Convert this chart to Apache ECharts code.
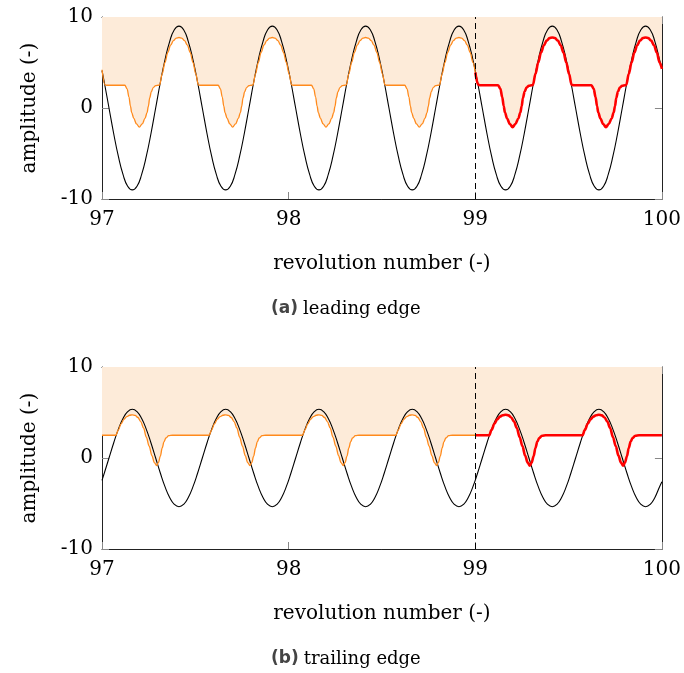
<!DOCTYPE html>
<html><head><meta charset="utf-8">
<script src="https://cdn.jsdelivr.net/npm/echarts@6/dist/echarts.min.js"></script>
<style>html,body{margin:0;padding:0;background:#fff}#c{width:684px;height:673px}</style>
</head><body><div id="c"></div>
<script>
// ---------- data ----------
const xTicks = [97, 98, 99, 100];
const yTicks = [-10, 0, 10];
const splitRev = 99;
const xTitle = 'revolution number (-)';
const yTitle = 'amplitude (-)';
const captions = [['(a)', 'leading edge'], ['(b)', 'trailing edge']];

// sample positions of the black (blade signal) curves
const revX = [97,
97.0125,97.0375,97.0625,97.0875,97.1125,97.1375,97.1625,97.1875,97.2125,97.2375,97.2625,97.2875,97.3125,97.3375,97.3625,97.3875,97.4125,97.4375,97.4625,97.4875,
97.5125,97.5375,97.5625,97.5875,97.6125,97.6375,97.6625,97.6875,97.7125,97.7375,97.7625,97.7875,97.8125,97.8375,97.8625,97.8875,97.9125,97.9375,97.9625,97.9875,
98.0125,98.0375,98.0625,98.0875,98.1125,98.1375,98.1625,98.1875,98.2125,98.2375,98.2625,98.2875,98.3125,98.3375,98.3625,98.3875,98.4125,98.4375,98.4625,98.4875,
98.5125,98.5375,98.5625,98.5875,98.6125,98.6375,98.6625,98.6875,98.7125,98.7375,98.7625,98.7875,98.8125,98.8375,98.8625,98.8875,98.9125,98.9375,98.9625,98.9875,
99.0125,99.0375,99.0625,99.0875,99.1125,99.1375,99.1625,99.1875,99.2125,99.2375,99.2625,99.2875,99.3125,99.3375,99.3625,99.3875,99.4125,99.4375,99.4625,99.4875,
99.5125,99.5375,99.5625,99.5875,99.6125,99.6375,99.6625,99.6875,99.7125,99.7375,99.7625,99.7875,99.8125,99.8375,99.8625,99.8875,99.9125,99.9375,99.9625,99.9875,
100];

// leading edge, black signal
const topBlack = [4.1,
2.8,0,-2.8,-5.3,-7.3,-8.6,-9.0,-8.6,-7.3,-5.3,-2.8,0,2.8,5.3,7.3,8.6,9.0,8.6,7.3,5.3,
2.8,0,-2.8,-5.3,-7.3,-8.6,-9.0,-8.6,-7.3,-5.3,-2.8,0,2.8,5.3,7.3,8.6,9.0,8.6,7.3,5.3,
2.8,0,-2.8,-5.3,-7.3,-8.6,-9.0,-8.6,-7.3,-5.3,-2.8,0,2.8,5.3,7.3,8.6,9.0,8.6,7.3,5.3,
2.8,0,-2.8,-5.3,-7.3,-8.6,-9.0,-8.6,-7.3,-5.3,-2.8,0,2.8,5.3,7.3,8.6,9.0,8.6,7.3,5.3,
2.8,0,-2.8,-5.3,-7.3,-8.6,-9.0,-8.6,-7.3,-5.3,-2.8,0,2.8,5.3,7.3,8.6,9.0,8.6,7.3,5.3,
2.8,0,-2.8,-5.3,-7.3,-8.6,-9.0,-8.6,-7.3,-5.3,-2.8,0,2.8,5.3,7.3,8.6,9.0,8.6,7.3,5.3,
4.4];

// trailing edge, black signal
const botBlack = [-2.45,
-1.65,0,1.65,3.15,4.33,5.09,5.35,5.09,4.33,3.15,1.65,0,-1.65,-3.15,-4.33,-5.09,-5.35,-5.09,-4.33,-3.15,
-1.65,0,1.65,3.15,4.33,5.09,5.35,5.09,4.33,3.15,1.65,0,-1.65,-3.15,-4.33,-5.09,-5.35,-5.09,-4.33,-3.15,
-1.65,0,1.65,3.15,4.33,5.09,5.35,5.09,4.33,3.15,1.65,0,-1.65,-3.15,-4.33,-5.09,-5.35,-5.09,-4.33,-3.15,
-1.65,0,1.65,3.15,4.33,5.09,5.35,5.09,4.33,3.15,1.65,0,-1.65,-3.15,-4.33,-5.09,-5.35,-5.09,-4.33,-3.15,
-1.65,0,1.65,3.15,4.33,5.09,5.35,5.09,4.33,3.15,1.65,0,-1.65,-3.15,-4.33,-5.09,-5.35,-5.09,-4.33,-3.15,
-1.65,0,1.65,3.15,4.33,5.09,5.35,5.09,4.33,3.15,1.65,0,-1.65,-3.15,-4.33,-5.09,-5.35,-5.09,-4.33,-3.15,
-2.6];

// leading edge, clipped (orange / red) signal  [revolution, amplitude]
const topClip = [[97.0,4.2],
[97.016,2.55],[97.0275,2.5],[97.1225,2.5],[97.1345,2.1],[97.1445,1.2],[97.1525,0.2],[97.159,-0.5],[97.1705,-1.15],[97.1845,-1.75],[97.2,-2.1],[97.2155,-1.75],[97.2305,-1.15],[97.2415,-0.5],[97.2485,0.2],[97.2555,1.1],[97.2645,1.8],[97.2745,2.25],[97.2875,2.45],[97.3025,2.5],
[97.309,2.55],[97.3225,3.75],[97.3375,5.0],[97.3525,6.1],[97.3675,6.9],[97.3825,7.4],[97.3975,7.68],[97.4125,7.75],[97.4275,7.68],[97.4425,7.4],[97.4575,6.9],[97.4725,6.1],[97.4875,5.0],[97.5025,3.75],
[97.516,2.55],[97.5275,2.5],[97.6225,2.5],[97.6345,2.1],[97.6445,1.2],[97.6525,0.2],[97.659,-0.5],[97.6705,-1.15],[97.6845,-1.75],[97.7,-2.1],[97.7155,-1.75],[97.7305,-1.15],[97.7415,-0.5],[97.7485,0.2],[97.7555,1.1],[97.7645,1.8],[97.7745,2.25],[97.7875,2.45],[97.8025,2.5],
[97.809,2.55],[97.8225,3.75],[97.8375,5.0],[97.8525,6.1],[97.8675,6.9],[97.8825,7.4],[97.8975,7.68],[97.9125,7.75],[97.9275,7.68],[97.9425,7.4],[97.9575,6.9],[97.9725,6.1],[97.9875,5.0],[98.0025,3.75],
[98.016,2.55],[98.0275,2.5],[98.1225,2.5],[98.1345,2.1],[98.1445,1.2],[98.1525,0.2],[98.159,-0.5],[98.1705,-1.15],[98.1845,-1.75],[98.2,-2.1],[98.2155,-1.75],[98.2305,-1.15],[98.2415,-0.5],[98.2485,0.2],[98.2555,1.1],[98.2645,1.8],[98.2745,2.25],[98.2875,2.45],[98.3025,2.5],
[98.309,2.55],[98.3225,3.75],[98.3375,5.0],[98.3525,6.1],[98.3675,6.9],[98.3825,7.4],[98.3975,7.68],[98.4125,7.75],[98.4275,7.68],[98.4425,7.4],[98.4575,6.9],[98.4725,6.1],[98.4875,5.0],[98.5025,3.75],
[98.516,2.55],[98.5275,2.5],[98.6225,2.5],[98.6345,2.1],[98.6445,1.2],[98.6525,0.2],[98.659,-0.5],[98.6705,-1.15],[98.6845,-1.75],[98.7,-2.1],[98.7155,-1.75],[98.7305,-1.15],[98.7415,-0.5],[98.7485,0.2],[98.7555,1.1],[98.7645,1.8],[98.7745,2.25],[98.7875,2.45],[98.8025,2.5],
[98.809,2.55],[98.8225,3.75],[98.8375,5.0],[98.8525,6.1],[98.8675,6.9],[98.8825,7.4],[98.8975,7.68],[98.9125,7.75],[98.9275,7.68],[98.9425,7.4],[98.9575,6.9],[98.9725,6.1],[98.9875,5.0],[99.0,3.9],
[99.016,2.55],[99.0275,2.5],[99.1225,2.5],[99.1345,2.1],[99.1445,1.2],[99.1525,0.2],[99.159,-0.5],[99.1705,-1.15],[99.1845,-1.75],[99.2,-2.1],[99.2155,-1.75],[99.2305,-1.15],[99.2415,-0.5],[99.2485,0.2],[99.2555,1.1],[99.2645,1.8],[99.2745,2.25],[99.2875,2.45],[99.3025,2.5],
[99.309,2.55],[99.3225,3.75],[99.3375,5.0],[99.3525,6.1],[99.3675,6.9],[99.3825,7.4],[99.3975,7.68],[99.4125,7.75],[99.4275,7.68],[99.4425,7.4],[99.4575,6.9],[99.4725,6.1],[99.4875,5.0],[99.5025,3.75],
[99.516,2.55],[99.5275,2.5],[99.6225,2.5],[99.6345,2.1],[99.6445,1.2],[99.6525,0.2],[99.659,-0.5],[99.6705,-1.15],[99.6845,-1.75],[99.7,-2.1],[99.7155,-1.75],[99.7305,-1.15],[99.7415,-0.5],[99.7485,0.2],[99.7555,1.1],[99.7645,1.8],[99.7745,2.25],[99.7875,2.45],[99.8025,2.5],
[99.809,2.55],[99.8225,3.75],[99.8375,5.0],[99.8525,6.1],[99.8675,6.9],[99.8825,7.4],[99.8975,7.68],[99.9125,7.75],[99.9275,7.68],[99.9425,7.4],[99.9575,6.9],[99.9725,6.1],[99.9875,5.0],[100.0,4.3]];

// trailing edge, clipped (orange / red) signal  [revolution, amplitude]
const botClip = [[97.0,2.5],
[97.0745,2.5],[97.0875,3.1],[97.1025,3.75],[97.1175,4.25],[97.1325,4.55],[97.1475,4.7],[97.1625,4.75],[97.1775,4.68],[97.1925,4.45],[97.2075,4.0],[97.2225,3.3],[97.2375,2.3],[97.2525,1.3],[97.2675,0.25],[97.2805,-0.5],[97.2925,-0.84],[97.3025,-0.5],[97.3125,0.2],[97.3225,1.1],[97.3325,1.8],[97.3425,2.2],[97.3575,2.45],[97.3775,2.5],
[97.5745,2.5],[97.5875,3.1],[97.6025,3.75],[97.6175,4.25],[97.6325,4.55],[97.6475,4.7],[97.6625,4.75],[97.6775,4.68],[97.6925,4.45],[97.7075,4.0],[97.7225,3.3],[97.7375,2.3],[97.7525,1.3],[97.7675,0.25],[97.7805,-0.5],[97.7925,-0.84],[97.8025,-0.5],[97.8125,0.2],[97.8225,1.1],[97.8325,1.8],[97.8425,2.2],[97.8575,2.45],[97.8775,2.5],
[98.0745,2.5],[98.0875,3.1],[98.1025,3.75],[98.1175,4.25],[98.1325,4.55],[98.1475,4.7],[98.1625,4.75],[98.1775,4.68],[98.1925,4.45],[98.2075,4.0],[98.2225,3.3],[98.2375,2.3],[98.2525,1.3],[98.2675,0.25],[98.2805,-0.5],[98.2925,-0.84],[98.3025,-0.5],[98.3125,0.2],[98.3225,1.1],[98.3325,1.8],[98.3425,2.2],[98.3575,2.45],[98.3775,2.5],
[98.5745,2.5],[98.5875,3.1],[98.6025,3.75],[98.6175,4.25],[98.6325,4.55],[98.6475,4.7],[98.6625,4.75],[98.6775,4.68],[98.6925,4.45],[98.7075,4.0],[98.7225,3.3],[98.7375,2.3],[98.7525,1.3],[98.7675,0.25],[98.7805,-0.5],[98.7925,-0.84],[98.8025,-0.5],[98.8125,0.2],[98.8225,1.1],[98.8325,1.8],[98.8425,2.2],[98.8575,2.45],[98.8775,2.5],
[99.0,2.5],
[99.0745,2.5],[99.0875,3.1],[99.1025,3.75],[99.1175,4.25],[99.1325,4.55],[99.1475,4.7],[99.1625,4.75],[99.1775,4.68],[99.1925,4.45],[99.2075,4.0],[99.2225,3.3],[99.2375,2.3],[99.2525,1.3],[99.2675,0.25],[99.2805,-0.5],[99.2925,-0.84],[99.3025,-0.5],[99.3125,0.2],[99.3225,1.1],[99.3325,1.8],[99.3425,2.2],[99.3575,2.45],[99.3775,2.5],
[99.5745,2.5],[99.5875,3.1],[99.6025,3.75],[99.6175,4.25],[99.6325,4.55],[99.6475,4.7],[99.6625,4.75],[99.6775,4.68],[99.6925,4.45],[99.7075,4.0],[99.7225,3.3],[99.7375,2.3],[99.7525,1.3],[99.7675,0.25],[99.7805,-0.5],[99.7925,-0.84],[99.8025,-0.5],[99.8125,0.2],[99.8225,1.1],[99.8325,1.8],[99.8425,2.2],[99.8575,2.45],[99.8775,2.5],
[100.0,2.5]];

// ---------- chart ----------
const serif = '"DejaVu Serif", "Liberation Serif", serif';
const chart = echarts.init(document.getElementById('c'), null, {renderer: 'canvas'});

const grids = [
  {left: 102, right: 21, top: 17, height: 182},
  {left: 102, right: 21, top: 367, height: 182}
];

const frameLine = {show: true, onZero: false, lineStyle: {color: '#222', width: 1}};
const tickStyle = {show: true, inside: true, length: 7, lineStyle: {color: '#888', width: 1}};
const txt = {fontFamily: serif, fontSize: 20, color: '#000'};

const xAxes = [], yAxes = [];
grids.forEach((g, gi) => {
  const xr = {min: xTicks[0], max: xTicks[xTicks.length - 1], interval: xTicks[1] - xTicks[0]};
  const yr = {min: yTicks[0], max: yTicks[yTicks.length - 1], interval: yTicks[1] - yTicks[0]};
  xAxes.push(Object.assign({gridIndex: gi, type: 'value', position: 'bottom',
    name: xTitle, nameLocation: 'middle', nameGap: 55,
    nameTextStyle: txt,
    axisLine: frameLine, axisTick: tickStyle,
    axisLabel: Object.assign({margin: 11}, txt),
    splitLine: {show: false}}, xr));
  xAxes.push(Object.assign({gridIndex: gi, type: 'value', position: 'top',
    axisLine: frameLine, axisTick: tickStyle, axisLabel: {show: false}, splitLine: {show: false}}, xr));
  yAxes.push(Object.assign({gridIndex: gi, type: 'value', position: 'left',
    name: yTitle, nameLocation: 'middle', nameGap: 62,
    nameTextStyle: txt,
    axisLine: frameLine, axisTick: tickStyle,
    axisLabel: Object.assign({margin: 9}, txt),
    splitLine: {show: false}}, yr));
  yAxes.push(Object.assign({gridIndex: gi, type: 'value', position: 'right',
    axisLine: frameLine, axisTick: tickStyle, axisLabel: {show: false}, splitLine: {show: false}}, yr));
});

function blackPairs(vals) { return revX.map((x, i) => [x, vals[i]]); }

const series = [];
[[topBlack, topClip], [botBlack, botClip]].forEach(([blk, clip], gi) => {
  const xi = gi * 2, yi = gi * 2;
  series.push({type: 'line', xAxisIndex: xi, yAxisIndex: yi, data: clip, smooth: 0.35, smoothMonotone: 'x',
    showSymbol: false, silent: true, lineStyle: {width: 0, opacity: 0},
    areaStyle: {origin: 'end', color: '#fdebd9', opacity: 1}, z: 1});
  series.push({type: 'line', xAxisIndex: xi, yAxisIndex: yi, data: blackPairs(blk), smooth: 0.5,
    showSymbol: false, silent: true, lineStyle: {color: '#000', width: 1.1}, z: 2,
    markLine: {silent: true, symbol: 'none', label: {show: false},
      lineStyle: {color: '#000', type: [6, 4], width: 1}, data: [{xAxis: splitRev}]}});
  series.push({type: 'line', xAxisIndex: xi, yAxisIndex: yi, data: clip.filter(p => p[0] <= splitRev),
    smooth: 0.35, smoothMonotone: 'x', showSymbol: false, silent: true,
    lineStyle: {color: '#ff8a1c', width: 1.3}, z: 3});
  series.push({type: 'line', xAxisIndex: xi, yAxisIndex: yi, data: clip.filter(p => p[0] >= splitRev),
    smooth: 0.35, smoothMonotone: 'x', showSymbol: false, silent: true,
    lineStyle: {color: '#ff0000', width: 2.6}, z: 4});
});

const titles = captions.map((c, i) => ({
  text: '{b|' + c[0] + '} {n|' + c[1] + '}',
  left: 266, top: i === 0 ? 295 : 645,
  textStyle: {fontWeight: 'normal', rich: {
    b: {fontFamily: '"DejaVu Sans", sans-serif', fontWeight: 'bold', fontSize: 17, color: '#444'},
    n: {fontFamily: serif, fontWeight: 'normal', fontSize: 18, color: '#000'}
  }}
}));

chart.setOption({
  animation: false,
  backgroundColor: '#fff',
  title: titles,
  grid: grids,
  xAxis: xAxes,
  yAxis: yAxes,
  series: series
});
</script></body></html>
